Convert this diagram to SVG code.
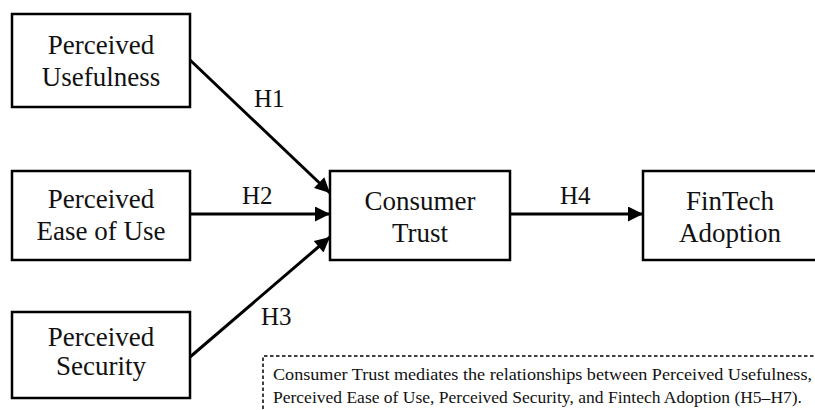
<svg xmlns="http://www.w3.org/2000/svg" width="815" height="410" viewBox="0 0 815 410">
<defs>
<style>
.box{fill:#fff;stroke:#000;stroke-width:2.5}
.t{font-family:"Liberation Serif","Times New Roman",serif;font-size:27px;fill:#111;text-anchor:middle}
.h{font-family:"Liberation Serif","Times New Roman",serif;font-size:25px;fill:#111}
.e{stroke:#000;stroke-width:3;fill:none}
.note{font-family:"Liberation Serif","Times New Roman",serif;font-size:17px;fill:#111}
</style>
<marker id="ah" viewBox="0 0 10 10" refX="10" refY="5" markerWidth="5.5" markerHeight="5" orient="auto" markerUnits="strokeWidth">
<path d="M0,0 L10,5 L0,10 z" fill="#000"/>
</marker>
</defs>
<rect width="815" height="410" fill="#fff"/>
<g id="connectors">
<line class="e" x1="190" y1="60" x2="330" y2="193" marker-end="url(#ah)"/>
<line class="e" x1="190" y1="214" x2="330" y2="214" marker-end="url(#ah)"/>
<line class="e" x1="190" y1="357" x2="330" y2="237" marker-end="url(#ah)"/>
<line class="e" x1="510" y1="214" x2="643" y2="214" marker-end="url(#ah)"/>
<text class="h" x="254" y="107">H1</text>
<text class="h" x="242" y="204">H2</text>
<text class="h" x="261" y="325">H3</text>
<text class="h" x="560" y="204">H4</text>
</g>
<g id="pu">
<rect class="box" x="12" y="14" width="178" height="93"/>
<text class="t" x="101" y="54">Perceived</text>
<text class="t" x="101" y="86">Usefulness</text>
</g>
<g id="peu">
<rect class="box" x="12" y="171" width="178" height="89"/>
<text class="t" x="101" y="208">Perceived</text>
<text class="t" x="101" y="240">Ease of Use</text>
</g>
<g id="ps">
<rect class="box" x="12" y="312" width="178" height="86"/>
<text class="t" x="101" y="346">Perceived</text>
<text class="t" x="101" y="375">Security</text>
</g>
<g id="ct">
<rect class="box" x="330" y="171" width="180" height="89"/>
<text class="t" x="420" y="210">Consumer</text>
<text class="t" x="420" y="242">Trust</text>
</g>
<g id="fa">
<rect class="box" x="643" y="171" width="176" height="89"/>
<text class="t" x="730" y="210">FinTech</text>
<text class="t" x="730" y="242">Adoption</text>
</g>
<g id="note">
<path d="M263,415 L263,356 L820,356" fill="none" stroke="#000" stroke-width="1.5" stroke-dasharray="3.5,2.5"/>
<text class="note" x="273" y="380" textLength="539" lengthAdjust="spacingAndGlyphs">Consumer Trust mediates the relationships between Perceived Usefulness,</text>
<text class="note" x="273" y="403" textLength="529" lengthAdjust="spacingAndGlyphs">Perceived Ease of Use, Perceived Security, and Fintech Adoption (H5–H7).</text>
</g>
</svg>
